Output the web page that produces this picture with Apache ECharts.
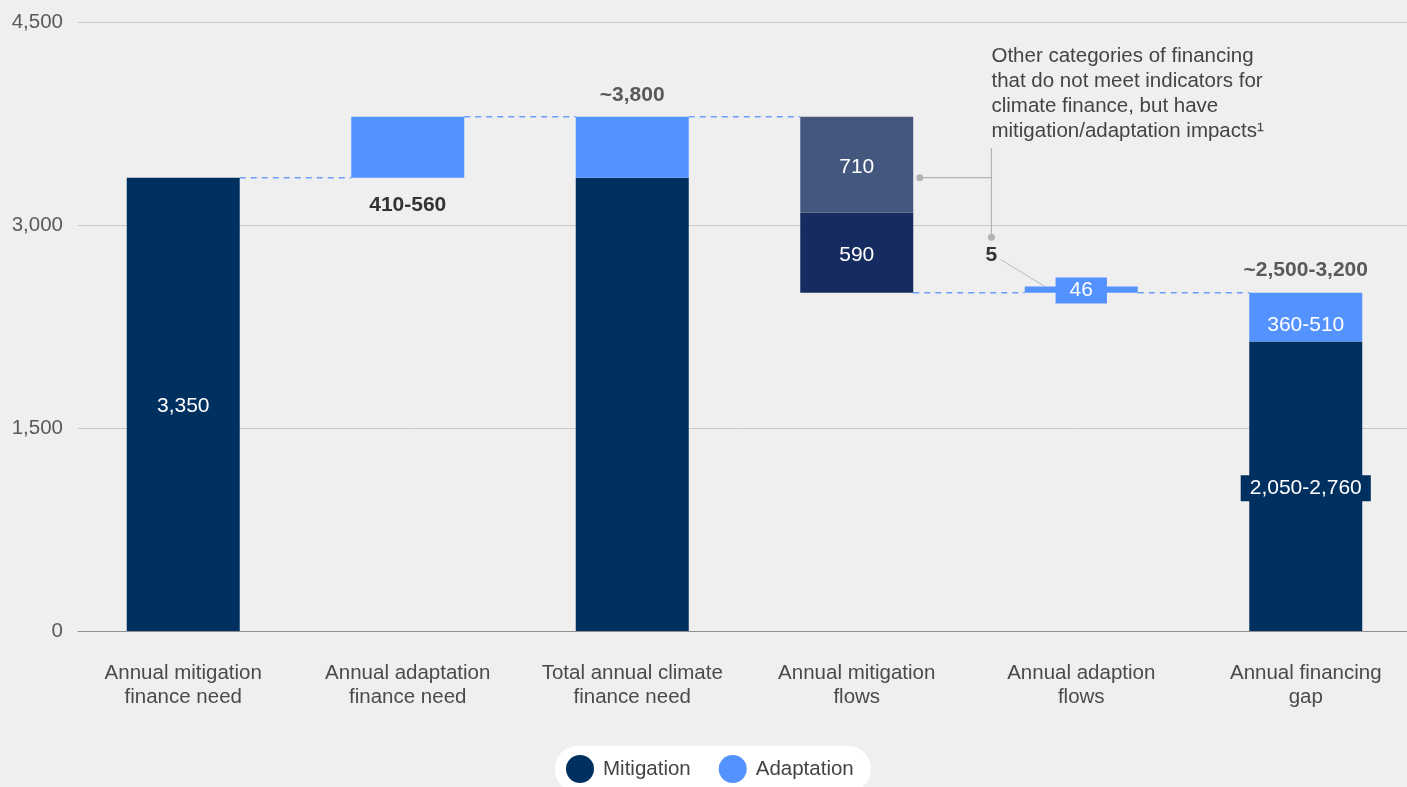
<!DOCTYPE html>
<html>
<head>
<meta charset="utf-8">
<script src="https://cdn.jsdelivr.net/npm/echarts@6/dist/echarts.min.js"></script>
<style>
  html, body { margin: 0; padding: 0; background: #efefef; }
  #chart { width: 1407px; height: 787px; }
</style>
</head>
<body>
<div id="chart"></div>
<script>
// ---- data (USD billions per year) ----
const categories = [
  'Annual mitigation\nfinance need',
  'Annual adaptation\nfinance need',
  'Total annual climate\nfinance need',
  'Annual mitigation\nflows',
  'Annual adaption\nflows',
  'Annual financing\ngap'
];
const baseValues   = [0, 3350, 0, 2500, 2500, 0];      // invisible offsets for the waterfall
const mitigation   = [3350, null, 3350, 590, null, 2140];
const adaptation   = [null, 450, 450, null, 46, 360];
const otherImpact  = [null, null, null, 710, null, null];

const mitigationLabels = ['3,350', '', '', '590', '', '2,050-2,760'];
const adaptationLabels = ['', '410-560', '', '', '46', '360-510'];
const otherLabels      = ['', '', '', '710', '', ''];
const totalLabels      = ['', '', '~3,800', '', '', '~2,500-3,200'];

const connectorLevels = [3350, 3800, 3800, 2500, 2500];   // dashed links between neighbouring bars
const yTicks = [0, 1500, 3000, 4500];
const yTickLabels = ['0', '1,500', '3,000', '4,500'];

const noteLines = [
  'Other categories of financing',
  'that do not meet indicators for',
  'climate finance, but have',
  'mitigation/adaptation impacts\u00B9'
];
const smallAdaptationNote = '5';

// ---- styling ----
const FONT = "'Liberation Sans', Arial, Helvetica, sans-serif";
const MIT = '#00305f';
const ADA = '#5492ff';
const MIT_FLOW = '#162c60';
const OTHER = '#43577f';
const BAR_W = 113;

const chart = echarts.init(document.getElementById('chart'), null, { renderer: 'canvas' });

const stackTotals = categories.map((_, i) =>
  [baseValues, mitigation, adaptation, otherImpact].reduce((s, arr) => s + (arr[i] || 0), 0));

function insideLabel(text, extra) {
  return Object.assign({
    show: text !== '', formatter: text, position: 'inside', offset: [0, 2],
    color: '#ffffff', fontSize: 21, fontFamily: FONT
  }, extra || {});
}

const mitigationData = mitigation.map((v, i) => {
  if (v == null) return '-';
  const item = { value: v, label: insideLabel(mitigationLabels[i]) };
  if (i === 3) item.itemStyle = { color: MIT_FLOW };
  if (i === 5) Object.assign(item.label, { backgroundColor: MIT, padding: [3, 9, 2, 9] });
  return item;
});

const adaptationData = adaptation.map((v, i) => {
  if (v == null) return '-';
  const item = { value: v, label: insideLabel(adaptationLabels[i]) };
  if (i === 1) Object.assign(item.label, { position: 'bottom', distance: 17, offset: [0, 0], color: '#333', fontWeight: 'bold' });
  if (i === 4) Object.assign(item.label, { backgroundColor: ADA, padding: [3, 14, 2, 14], offset: [0, 1] });
  if (i === 5) Object.assign(item.label, { offset: [0, 8] });
  return item;
});

const otherData = otherImpact.map((v, i) => v == null ? '-' : { value: v, label: insideLabel(otherLabels[i]) });

const totalPoints = categories.map((_, i) => totalLabels[i] ? [i, stackTotals[i]] : null).filter(Boolean);
const connectorData = connectorLevels.map((v, i) => [i, i + 1, v]);

const barCommon = { type: 'bar', stack: 'waterfall', xAxisIndex: 1, yAxisIndex: 1, barWidth: BAR_W, emphasis: { disabled: true } };

const option = {
  backgroundColor: '#efefef',
  animation: false,
  textStyle: { fontFamily: FONT },
  grid: [
    { left: 78, right: 0, top: 22, bottom: 156, outerBoundsMode: 'none', containLabel: false },   // gridlines and value scale
    { left: 71, width: 1347, top: 22, bottom: 156, outerBoundsMode: 'none', containLabel: false } // bars and categories
  ],
  xAxis: [
    { gridIndex: 0, type: 'value', min: 0, max: 1, show: true,
      axisLine: { show: true, lineStyle: { color: '#8f8f8f', width: 1 } },
      axisTick: { show: false }, axisLabel: { show: false }, splitLine: { show: false } },
    { gridIndex: 1, type: 'category', data: categories,
      axisLine: { show: false }, axisTick: { show: false },
      axisLabel: { interval: 0, color: '#4a4a4a', fontSize: 20.5, lineHeight: 24, margin: 30, fontFamily: FONT } }
  ],
  yAxis: [
    { gridIndex: 0, type: 'value', min: yTicks[0], max: yTicks[yTicks.length - 1], interval: yTicks[1] - yTicks[0],
      axisLine: { show: false }, axisTick: { show: false },
      axisLabel: { color: '#5a5a5a', fontSize: 20.5, margin: 15, fontFamily: FONT,
        formatter: v => yTickLabels[yTicks.indexOf(v)] },
      splitLine: { lineStyle: { color: '#c9c9c9', width: 1 } } },
    { gridIndex: 1, type: 'value', min: yTicks[0], max: yTicks[yTicks.length - 1], show: false }
  ],
  legend: {
    data: ['Mitigation', 'Adaptation'],
    left: 555, top: 746,
    icon: 'circle', itemWidth: 28, itemHeight: 28, itemGap: 28,
    backgroundColor: '#ffffff', borderRadius: 22, padding: [9, 17, 9, 11],
    selectedMode: false,
    textStyle: { fontSize: 20.5, color: '#444', fontFamily: FONT, padding: [0, 0, 0, 4] }
  },
  series: [
    { ...barCommon, name: 'base', itemStyle: { color: 'transparent' }, silent: true, data: baseValues },
    { ...barCommon, name: 'Mitigation', itemStyle: { color: MIT }, data: mitigationData },
    { ...barCommon, name: 'Adaptation', itemStyle: { color: ADA }, data: adaptationData },
    { ...barCommon, name: 'Other flows', itemStyle: { color: OTHER }, data: otherData },
    {
      type: 'scatter', name: 'totals', xAxisIndex: 1, yAxisIndex: 1, silent: true,
      symbolSize: 1, itemStyle: { color: 'transparent' }, data: totalPoints,
      label: { show: true, position: 'top', distance: 11, color: '#333', fontWeight: 'bold',
        fontSize: 21, fontFamily: FONT, formatter: p => totalLabels[p.value[0]] }
    },
    {
      type: 'custom', name: 'connectors', xAxisIndex: 1, yAxisIndex: 1, silent: true, z: 1,
      encode: { x: [0, 1], y: 2 },
      data: connectorData,
      renderItem: (params, api) => {
        const from = api.coord([api.value(0), api.value(2)]);
        const to = api.coord([api.value(1), api.value(2)]);
        return {
          type: 'line',
          shape: { x1: from[0] + BAR_W / 2, y1: from[1], x2: to[0] - BAR_W / 2, y2: to[1] },
          style: { stroke: '#6d9ef8', lineWidth: 1.5, lineDash: [6, 5] }
        };
      }
    }
  ]
};

chart.setOption(option);

// ---- callout for other financing categories, placed from the axis scales ----
const px = (i, v) => chart.convertToPixel({ gridIndex: 1 }, [i, v]);
const band = px(4, 0)[0] - px(3, 0)[0];
const flowRight = px(3, 0)[0] + BAR_W / 2;
const bracketX = px(3, 0)[0] + band * 0.6;
const dotY = px(3, 3350)[1];
const topY = px(3, 3570)[1];
const lowDotY = px(3, 2910)[1];
const fiveY = px(3, 2775)[1];
const adaptTop = px(4, stackTotals[4])[1];
const adaptLeft = px(4, 0)[0] - BAR_W / 2;
const grey = '#b3b3b3';

chart.setOption({
  graphic: [
    { type: 'text', left: bracketX, top: 44, silent: true,
      style: { text: noteLines.join('\n'), fill: '#444', font: '20.5px ' + FONT, lineHeight: 25 } },
    { type: 'line', silent: true, shape: { x1: flowRight + 6.5, y1: dotY, x2: bracketX, y2: dotY },
      style: { stroke: grey, lineWidth: 1.2 } },
    { type: 'line', silent: true, shape: { x1: bracketX, y1: topY, x2: bracketX, y2: lowDotY },
      style: { stroke: grey, lineWidth: 1.2 } },
    { type: 'circle', silent: true, shape: { cx: flowRight + 6.5, cy: dotY, r: 3.5 }, style: { fill: grey } },
    { type: 'circle', silent: true, shape: { cx: bracketX, cy: lowDotY, r: 3.5 }, style: { fill: grey } },
    { type: 'text', silent: true, x: bracketX, y: fiveY,
      style: { text: smallAdaptationNote, fill: '#333', font: 'bold 21px ' + FONT, align: 'center', verticalAlign: 'middle' } },
    { type: 'line', silent: true, shape: { x1: bracketX + 9, y1: fiveY + 4, x2: adaptLeft + 20, y2: adaptTop },
      style: { stroke: '#bdbdbd', lineWidth: 1 } }
  ]
});
</script>
</body>
</html>
